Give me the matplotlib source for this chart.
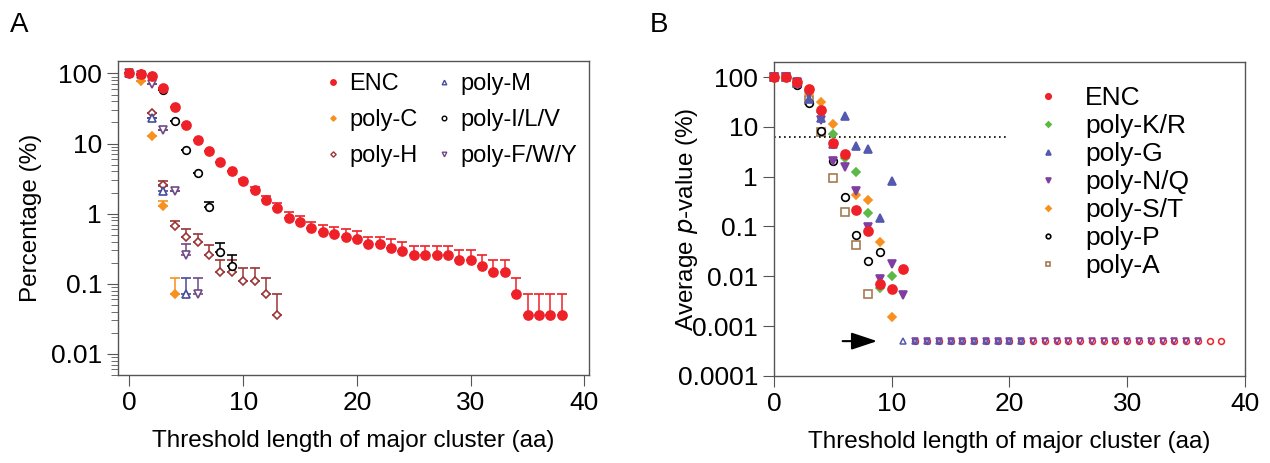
import numpy as np
import matplotlib
matplotlib.use("Agg")
from matplotlib import pyplot as plt
from matplotlib.lines import Line2D

plt.rcParams.update({
    "font.family": ["Liberation Sans", "DejaVu Sans"],
    "font.size": 17.5,
    "axes.edgecolor": "#555555",
    "axes.linewidth": 1.0,
    "xtick.color": "#555555",
    "ytick.color": "#555555",
    "xtick.labelcolor": "black",
    "ytick.labelcolor": "black",
    "xtick.labelsize": 19,
    "ytick.labelsize": 19,
    "xtick.major.size": 8,
    "ytick.major.size": 8,
    "ytick.minor.size": 5,
})

# ---------- panel A: percentage with upper error bars ----------
enc_x = list(range(0, 39))
enc_y = [100, 98, 92, 62, 33, 18.5, 11.3, 7.8, 5.5, 4.0, 2.9, 2.15, 1.57, 1.19,
         0.87, 0.76, 0.62, 0.54, 0.51, 0.47, 0.43, 0.365, 0.365, 0.327, 0.29,
         0.254, 0.254, 0.254, 0.254, 0.218, 0.218, 0.181, 0.145, 0.145, 0.072,
         0.036, 0.036, 0.036, 0.036]
enc_hi = [100, 98, 92, 62, 33, 18.5, 11.3, 7.8, 5.5, 4.0, 3.1, 2.4, 1.8, 1.4,
          1.06, 0.93, 0.76, 0.68, 0.64, 0.61, 0.56, 0.47, 0.47, 0.43, 0.39,
          0.35, 0.35, 0.35, 0.35, 0.30, 0.30, 0.26, 0.218, 0.218, 0.122,
          0.072, 0.072, 0.072, 0.072]

c_x = [0, 1, 2, 3, 4]
c_y = [100, 77, 12.9, 1.30, 0.071]
c_hi = [100, 77, 12.9, 1.5, 0.123]

m_x = [0, 1, 2, 3, 5]
m_y = [100, 98, 23.3, 2.1, 0.071]
m_hi = [100, 98, 23.3, 2.45, 0.12]

h_x = list(range(0, 14))
h_y = [100, 98, 27.4, 2.6, 0.66, 0.47, 0.39, 0.254, 0.145, 0.145, 0.108,
       0.108, 0.072, 0.036]
h_hi = [100, 98, 27.4, 2.9, 0.79, 0.60, 0.52, 0.36, 0.22, 0.22, 0.17, 0.17,
        0.12, 0.072]

ilv_x = list(range(0, 10))
ilv_y = [100, 98, 92, 58.5, 21.3, 8.1, 3.77, 1.23, 0.287, 0.177]
ilv_hi = [100, 98, 92, 58.5, 21.3, 8.1, 3.77, 1.45, 0.38, 0.255]

fwy_x = list(range(0, 7))
fwy_y = [100, 96, 70.4, 15.8, 2.1, 0.26, 0.071]
fwy_hi = [100, 96, 70.4, 15.8, 2.1, 0.37, 0.12]

# ---------- panel B: average p-value (0 = p-value of zero) ----------
b_enc = [100, 100, 81, 57.5, 21.9, 4.7, 2.84, 0.219, 0.081, 0.0071, 0.0055,
         0.0142] + [0] * 27
b_kr = [100, 100, 80, 50, 20, 7.1, 2.36, 1.26, 0.188, 0.0059, 0.0102]
b_g = [100, 100, 75, 37, 14.9, 4.5, 16.9, 4.04, 3.58, 0.145, 0.83] + [0] * 11
b_nq = [100, 100, 78, 46, 14, 2.1, 1.56, 0.52, 0.097, 0.009, 0.0179,
        0.0042] + [0] * 25
b_st = [100, 100, 80, 45, 31, 11.3, 2.6, 0.43, 0.34, 0.049, 0.0015]
b_p = [100, 100, 69, 30.7, 8.2, 2.1, 0.40, 0.067, 0.0206, 0.031]
b_a = [100, 100, 75, 34.7, 8.0, 0.93, 0.2, 0.043, 0.0044]

zero_level = 0.0005
cutoff = 6.3

RED = "#ee2128"
ORANGE = "#f7901e"

fig = plt.figure(figsize=(12.7, 4.63), dpi=100)
axA = fig.add_axes([0.0929, 0.190, 0.3709, 0.678])
axB = fig.add_axes([0.6094, 0.188, 0.3709, 0.678])


def err_series(ax, x, y, hi, color, marker, filled, ms, z):
    y = np.array(y)
    up = np.array(hi) - y
    face = color if filled else "white"
    ax.errorbar(x, y, yerr=[np.zeros_like(up), up], fmt=marker, color=color,
                mfc=face, mec=color, ms=ms, mew=1.2, capsize=3.5,
                elinewidth=1.1, capthick=1.1, zorder=z)
    return Line2D([], [], ls="none", marker=marker, color=color, mfc=face,
                  mec=color, ms=ms * 0.6, mew=1.0)


hA = {}
hA["poly-H"] = err_series(axA, h_x, h_y, h_hi, "#9b3535", "D", False, 4.5, 3)
hA["poly-F/W/Y"] = err_series(axA, fwy_x, fwy_y, fwy_hi, "#6e4a86", "v", False, 5.5, 3)
hA["poly-M"] = err_series(axA, m_x, m_y, m_hi, "#474b9a", "^", False, 5.5, 3)
hA["poly-I/L/V"] = err_series(axA, ilv_x, ilv_y, ilv_hi, "black", "o", False, 5.5, 3)
hA["poly-C"] = err_series(axA, c_x, c_y, c_hi, ORANGE, "D", True, 4.5, 4)
hA["ENC"] = err_series(axA, enc_x, enc_y, enc_hi, RED, "o", True, 6.5, 5)

axA.set_yscale("log")
axA.set_ylim(0.005, 150)
axA.set_xlim(-1, 40.4)
axA.set_xticks([0, 10, 20, 30, 40])
axA.set_yticks([0.01, 0.1, 1, 10, 100])
axA.set_yticklabels(["0.01", "0.1", "1", "10", "100"])
axA.set_xlabel("Threshold length of major cluster (aa)", labelpad=11)
axA.set_ylabel("Percentage (%)")
axA.yaxis.set_label_coords(-0.162, 0.5)

orderA = ["ENC", "poly-C", "poly-H", "poly-M", "poly-I/L/V", "poly-F/W/Y"]
axA.legend([hA[n] for n in orderA], orderA, ncol=2, frameon=False,
           loc="upper right", bbox_to_anchor=(1.02, 1.03),
           handlelength=0.6, handletextpad=0.4, columnspacing=0.8,
           labelspacing=0.6, fontsize=17)


# panel B
def p_series(ax, vals, color, marker, filled, ms, label, z):
    x = np.arange(len(vals))
    v = np.array(vals, dtype=float)
    nz = v > 0
    face = color if filled else "white"
    ax.plot(x[nz], v[nz], marker, color=color, mfc=face, mec=color, ms=ms,
            mew=1.2, zorder=z, label=label, clip_on=False)
    if (~nz).any():
        ax.plot(x[~nz], np.full((~nz).sum(), zero_level), marker, color=color,
                mfc="none", mec=color, ms=4.2, mew=1.1, zorder=z,
                clip_on=False)


p_series(axB, b_enc, RED, "o", True, 6.5, "ENC", 4)
p_series(axB, b_a, "#a57c52", "s", False, 5.5, "poly-A", 2)
p_series(axB, b_p, "black", "o", False, 5.5, "poly-P", 3)
p_series(axB, b_st, ORANGE, "D", True, 4.5, "poly-S/T", 3)
p_series(axB, b_nq, "#7e3fa0", "v", True, 6, "poly-N/Q", 5)
p_series(axB, b_g, "#5459b0", "^", True, 6, "poly-G", 5)
p_series(axB, b_kr, "#5cb946", "D", True, 4.5, "poly-K/R", 3)
axB.lines[0].set_zorder(6)

axB.hlines(cutoff, 0, 20, colors="black", linestyles=(0, (1, 2)), lw=1.2)
axB.annotate("", xy=(9.0, zero_level), xytext=(5.6, zero_level),
             arrowprops=dict(arrowstyle="-|>,head_length=0.9,head_width=0.3",
                             color="black", lw=1.5))

axB.set_yscale("log")
axB.set_ylim(0.0001, 200)
axB.set_xlim(0, 40)
axB.set_xticks([0, 10, 20, 30, 40])
axB.set_yticks([0.0001, 0.001, 0.01, 0.1, 1, 10, 100])
axB.set_yticklabels(["0.0001", "0.001", "0.01", "0.1", "1", "10", "100"])
axB.yaxis.set_minor_locator(matplotlib.ticker.NullLocator())
axB.set_xlabel("Threshold length of major cluster (aa)", labelpad=11)
axB.set_ylabel("Average $\\it{p}$-value (%)")
axB.yaxis.set_label_coords(-0.157, 0.5)

hB, lB = axB.get_legend_handles_labels()
orderB = ["ENC", "poly-K/R", "poly-G", "poly-N/Q", "poly-S/T", "poly-P", "poly-A"]
hB = [hB[lB.index(n)] for n in orderB]
axB.legend(hB, orderB, frameon=False, loc="upper left",
           bbox_to_anchor=(0.509, 0.999), markerscale=0.6, handlelength=0.8,
           handletextpad=1.0, labelspacing=0.15, fontsize=19)

fig.text(0.008, 0.93, "A", fontsize=20)
fig.text(0.512, 0.93, "B", fontsize=20)

fig.savefig("out.png", dpi=100)
